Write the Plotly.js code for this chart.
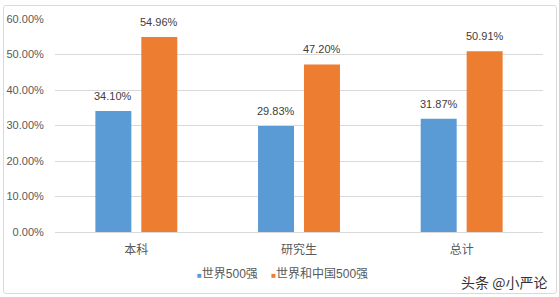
<!DOCTYPE html>
<html><head><meta charset="utf-8">
<script src="https://cdn.plot.ly/plotly-3.0.1.min.js"></script>
<style>
body{margin:0;background:#fff;}
#frame{position:absolute;left:3px;top:5px;width:554px;height:289px;box-sizing:border-box;border:1px solid #d9d9d9;border-radius:3px;pointer-events:none;}
#chart{position:absolute;left:0;top:0;width:559px;height:297px;}
</style></head>
<body>
<div id="chart"></div>
<div id="frame"></div>
<script>
const categories = ['本科', '研究生', '总计'];
const seriesNames = ['世界500强', '世界和中国500强'];
const world500 = [0.3410, 0.2983, 0.3187];
const worldChina500 = [0.5496, 0.4720, 0.5091];
const colors = ['#5B9BD5', '#ED7D31'];
const yTicks = [0, 0.1, 0.2, 0.3, 0.4, 0.5, 0.6];
const watermark = '头条 @小严论';

const font = "'Liberation Sans', 'Noto Sans CJK SC', sans-serif";
const cjkFont = "'Noto Sans CJK SC', 'Liberation Sans', sans-serif";
const seriesData = [world500, worldChina500];
const shifts = [-23, 23];
const traces = [];
const annotations = [];
seriesData.forEach((vals, i) => {
  traces.push({
    type: 'bar', x: categories, y: vals, name: seriesNames[i],
    marker: {color: colors[i]}, showlegend: false, hoverinfo: 'skip'
  });
  vals.forEach((v, j) => {
    annotations.push({
      x: categories[j], y: v, xref: 'x', yref: 'y', xshift: shifts[i], yshift: 7,
      xanchor: 'center', yanchor: 'bottom', showarrow: false,
      text: (v * 100).toFixed(2) + '%',
      font: {family: font, size: 11, color: '#404040'}
    });
  });
});
const legendText = seriesNames.map((n, i) =>
  '<span style="color:' + colors[i] + ';font-size:8px">■</span>' + n).join('&nbsp;&nbsp;&nbsp;&nbsp;');
annotations.push({
  text: legendText, xref: 'paper', yref: 'paper', x: 0.467, y: -0.197,
  xanchor: 'center', yanchor: 'middle', showarrow: false,
  font: {family: font, size: 12, color: '#595959'}
});
annotations.push({
  text: watermark, xref: 'paper', yref: 'paper', x: 1.012, y: -0.235,
  xanchor: 'right', yanchor: 'middle', showarrow: false,
  font: {family: cjkFont, size: 14, color: '#333333'}
});

const layout = {
  width: 559, height: 297,
  margin: {l: 55, r: 16, t: 19, b: 65},
  paper_bgcolor: 'rgba(0,0,0,0)', plot_bgcolor: 'rgba(0,0,0,0)',
  font: {family: font, size: 11, color: '#595959'},
  barmode: 'group', bargap: 0.435, bargroupgap: 0.217,
  showlegend: false,
  xaxis: {
    type: 'category', showgrid: false, zeroline: false,
    showline: true, linecolor: '#d9d9d9', linewidth: 1,
    ticks: 'outside', ticklen: 7, tickcolor: 'rgba(0,0,0,0)',
    tickfont: {family: cjkFont, size: 12, color: '#595959'}
  },
  yaxis: {
    range: [0, 0.6], tickvals: yTicks, tickformat: '.2%',
    showgrid: true, gridcolor: '#d9d9d9', gridwidth: 1,
    zeroline: false, showline: false,
    ticks: 'outside', ticklen: 8, tickcolor: 'rgba(0,0,0,0)',
    tickfont: {family: font, size: 11, color: '#595959'}
  },
  annotations: annotations
};
Plotly.newPlot('chart', traces, layout, {displayModeBar: false, staticPlot: true});
</script>
</body></html>
